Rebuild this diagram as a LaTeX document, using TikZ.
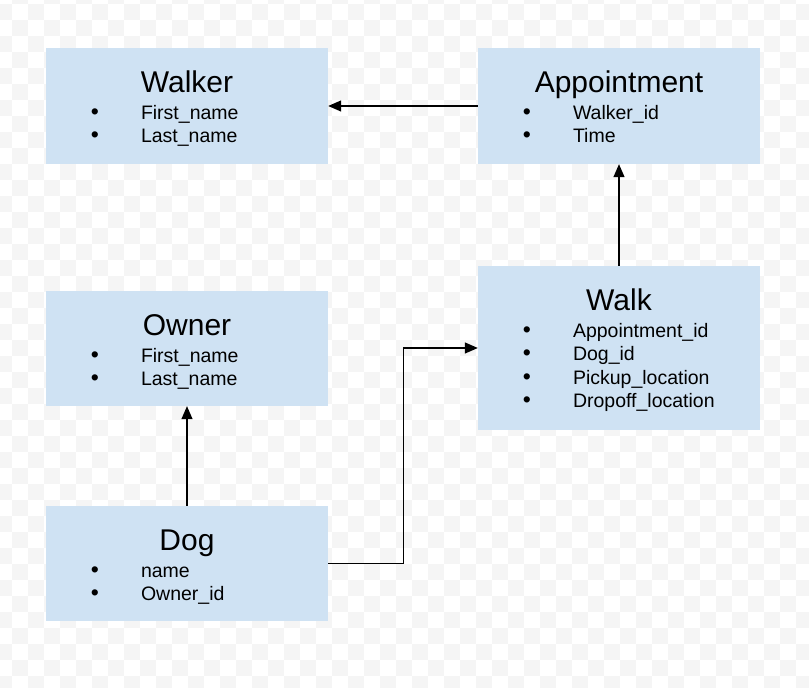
\documentclass[tikz,border=0pt]{standalone}
\usepackage{fontspec}
\setmainfont{Liberation Sans}
\usetikzlibrary{arrows.meta}
\definecolor{boxblue}{HTML}{CFE2F3}
\definecolor{checker}{HTML}{F5F5F5}
\begin{document}
\begin{tikzpicture}[x=1pt,y=1pt]
        % Styles for the boxes, texts and arrows
        \tikzset{
            entity/.style={
                rectangle,
                fill=boxblue,
                draw=none,
                minimum width=282pt,
                inner sep=0pt
            },
            title/.style={
                anchor=base,
                font=\fontsize{30}{36}\selectfont
            },
            field/.style={
                anchor=base west,
                inner sep=0pt,
                font=\fontsize{19.5}{23}\selectfont
            },
            bullet/.style={
                anchor=base,
                inner sep=0pt,
                font=\fontsize{23}{27}\selectfont
            },
            arrow/.style={
                line width=1.3pt,
                -{Triangle[length=13pt,width=11pt]}
            }
        }
        \useasboundingbox (0,0) rectangle (809,688);
        % Checkered background
        \begin{scope}
            \clip (0,0) rectangle (809,688);
            \foreach \i in {0,...,50} {
                \foreach \j in {-1,...,42} {
                    \ifodd\numexpr\i+\j\relax\else
                        \fill[checker] (-4+16*\i,684-16*\j) rectangle ++(16,-16);
                    \fi
                }
            }
        \end{scope}
        % Offsets of the fields from the top left corner of a box
        \def\fieldx{95}
        \def\bulletx{49}
        \def\firsty{71.5}
        \def\gap{23.5}
        % Drawing the boxes
        \node[entity, minimum height=116pt] (walker) at (187,582) {};
        \node[entity, minimum height=116pt] (appointment) at (619,582) {};
        \node[entity, minimum height=115pt] (owner) at (187,339.5) {};
        \node[entity, minimum height=164pt] (walk) at (619,340) {};
        \node[entity, minimum height=115pt] (dog) at (187,124.5) {};
        % Titles
        \node[title] (walkerT) at ([yshift=-45pt] walker.north) {Walker};
        \node[title] (appointmentT) at ([yshift=-45pt] appointment.north) {Appointment};
        \node[title] (ownerT) at ([yshift=-45pt] owner.north) {Owner};
        \node[title] (walkT) at ([yshift=-45pt] walk.north) {Walk};
        \node[title] (dogT) at ([yshift=-45pt] dog.north) {Dog};
        % Fields of each box
        \foreach \ent/\fields in {walker/{First\_name, Last\_name},
                appointment/{Walker\_id, Time},
                owner/{First\_name, Last\_name},
                walk/{Appointment\_id, Dog\_id, Pickup\_location, Dropoff\_location},
                dog/{name, Owner\_id}} {
            \foreach \f [count=\k from 0] in \fields {
                \node[bullet] (\ent B\k) at ([xshift=\bulletx pt, yshift={-(\firsty+\gap*\k)}] \ent.north west) {•};
                \node[field] (\ent F\k) at ([xshift=\fieldx pt, yshift={-(\firsty+\gap*\k)}] \ent.north west) {\f};
            }
        }
        % Arrows between the boxes
        \draw[arrow] (appointment.west) -- (walker.east);
        \draw[arrow] (walk.north) -- (appointment.south);
        \draw[arrow] (dog.north) -- (owner.south);
        \draw[arrow] (dog.east) -- ++(75,0) |- (walk.west);
    \end{tikzpicture}
\end{document}
